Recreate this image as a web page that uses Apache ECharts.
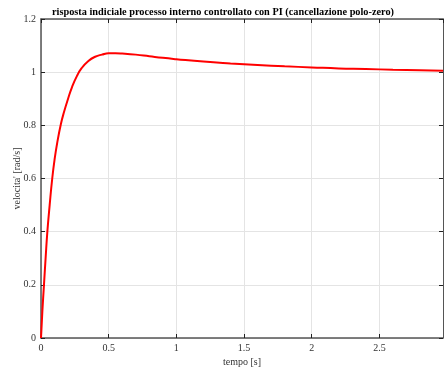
<!DOCTYPE html>
<html><head><meta charset="utf-8">
<script src="https://cdn.jsdelivr.net/npm/echarts@6/dist/echarts.min.js"></script>
<style>html,body{margin:0;padding:0;background:#fff}#c{width:444px;height:369px}</style>
</head><body><div id="c"></div>
<script>
const titleText = "risposta indiciale processo interno controllato con PI (cancellazione polo-zero)";
const xName = "tempo [s]";
const yName = "velocita' [rad/s]";
const tValues = [0,0.01,0.022,0.034,0.047,0.064,0.083,0.1,0.12,0.147,0.17,0.2,0.23,0.265,0.3,0.35,0.4,0.45,0.5,0.55,0.6,0.7,0.8,0.9,1.0,1.2,1.4,1.6,1.8,2.0,2.2,2.4,2.6,2.8,2.97];
const yValues = [0,0.10,0.20,0.30,0.40,0.50,0.60,0.67,0.735,0.805,0.85,0.90,0.945,0.985,1.015,1.042,1.058,1.066,1.071,1.071,1.070,1.066,1.060,1.054,1.049,1.040,1.033,1.027,1.022,1.018,1.014,1.012,1.009,1.007,1.005];
const xMin = 0, xMax = 2.97, xStep = 0.5;
const yMin = 0, yMax = 1.2, yStep = 0.2;

const font = "'Liberation Serif', 'DejaVu Serif', serif";
const chart = echarts.init(document.getElementById('c'), null, {renderer:'canvas'});
const lbl = {color:'#333', fontFamily:font, fontSize:10};
chart.setOption({
  animation:false,
  backgroundColor:'#fff',
  title:{text:titleText, left:47, top:2,
    textStyle:{fontFamily:font, fontSize:10.3, fontWeight:'bold', color:'#000'}},
  grid:{left:41, top:19, right:1, bottom:31, containLabel:false, outerBoundsMode:'none'},
  xAxis:[{type:'value', min:xMin, max:xMax, interval:xStep,
    name:xName, nameLocation:'middle', nameGap:19, nameMoveOverlap:false,
    nameTextStyle:{fontFamily:font, fontSize:10, color:'#333'},
    axisLine:{lineStyle:{color:'#555', width:1.5}},
    axisTick:{inside:true, length:4, lineStyle:{color:'#222'}},
    axisLabel:Object.assign({margin:5, showMaxLabel:false}, lbl),
    splitLine:{show:true, lineStyle:{color:'#e4e4e4', width:1}}},
   {type:'value', position:'top', min:xMin, max:xMax, interval:xStep,
    axisLine:{show:true, onZero:false, lineStyle:{color:'#555', width:1.5}},
    axisTick:{show:true, inside:true, length:4, lineStyle:{color:'#222'}},
    axisLabel:{show:false}, splitLine:{show:false}}],
  yAxis:[{type:'value', min:yMin, max:yMax, interval:yStep,
    name:yName, nameLocation:'middle', nameGap:19, nameMoveOverlap:false,
    nameTextStyle:{fontFamily:font, fontSize:10, color:'#333'},
    axisLine:{show:true, lineStyle:{color:'#555', width:1.5}},
    axisTick:{show:true, inside:true, length:4, lineStyle:{color:'#222'}},
    axisLabel:Object.assign({margin:5}, lbl),
    splitLine:{show:true, lineStyle:{color:'#e4e4e4', width:1}}},
   {type:'value', position:'right', min:yMin, max:yMax, interval:yStep,
    axisLine:{show:true, onZero:false, lineStyle:{color:'#555', width:1}},
    axisTick:{show:true, inside:true, length:4, lineStyle:{color:'#222'}},
    axisLabel:{show:false}, splitLine:{show:false}}],
  series:[{type:'line', xAxisIndex:0, yAxisIndex:0, showSymbol:false, smooth:0.5,
    data:tValues.map((t,i)=>[t,yValues[i]]),
    lineStyle:{color:'#ff0000', width:2}, z:5}]
});
</script></body></html>
